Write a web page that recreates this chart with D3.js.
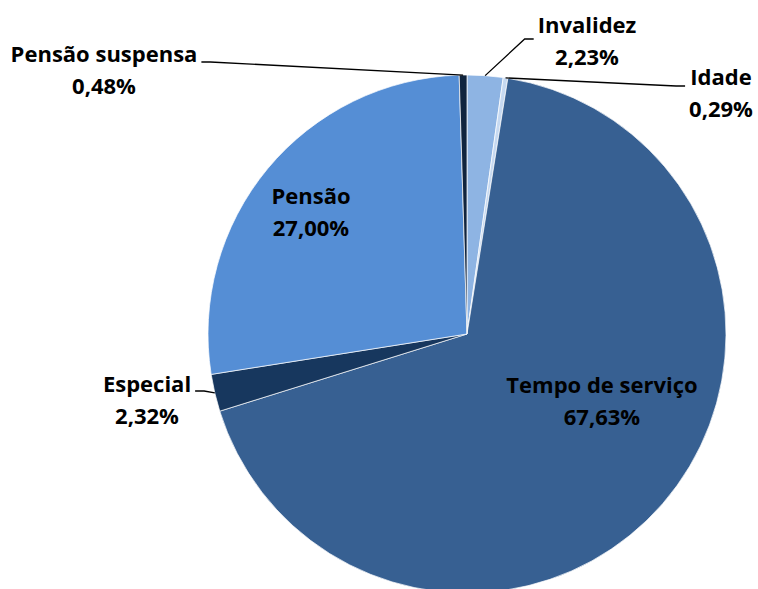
<!DOCTYPE html>
<html>
<head>
<meta charset="utf-8">
<script src="https://cdn.jsdelivr.net/npm/d3@7"></script>
<style>
  html, body { margin: 0; padding: 0; background: #fff; }
  svg text { font-family: "Open Sans", "Liberation Sans", sans-serif; font-weight: bold; fill: #000; }
</style>
</head>
<body>
<div id="chart"></div>
<script>
// Données (ordre horaire depuis midi)
const categorias = ["Invalidez", "Idade", "Tempo de serviço", "Especial", "Pensão", "Pensão suspensa"];
const valores = [2.23, 0.29, 67.63, 2.32, 27.00, 0.48];
const rotulos = ["2,23%", "0,29%", "67,63%", "2,32%", "27,00%", "0,48%"];
const cores = ["#8EB4E3", "#C6D9F1", "#376092", "#17375E", "#558ED5", "#10243E"];

// Position des étiquettes (ligne de base de la 1re ligne) et ligne de rappel
const labelPos = [
  { x: 587, y: 33, leader: true, side: "left", dy: 6 },
  { x: 721, y: 85, leader: true, side: "left", dy: 1 },
  { x: 602, y: 393, leader: false },
  { x: 147, y: 392, leader: true, side: "right", dy: -1 },
  { x: 311, y: 204, leader: false },
  { x: 104, y: 62, leader: true, side: "right", dy: 0 }
];

const width = 758, height = 589;
const cx = 467, cy = 334, radius = 259;

const svg = d3.select("#chart").append("svg")
  .attr("width", width)
  .attr("height", height);

const data = categorias.map((c, i) => ({ cat: c, val: valores[i], lab: rotulos[i], cor: cores[i], pos: labelPos[i] }));

const pie = d3.pie().sort(null).value(d => d.val);
const arcs = pie(data);

const arc = d3.arc().innerRadius(0).outerRadius(radius);
const edge = d3.arc().innerRadius(radius).outerRadius(radius);

const g = svg.append("g").attr("transform", `translate(${cx},${cy})`);

g.selectAll("path")
  .data(arcs)
  .join("path")
  .attr("d", arc)
  .attr("fill", d => d.data.cor)
  .attr("stroke", "#fff")
  .attr("stroke-width", 0.7);

// Textes
const fs = 22;
const lineH = 32;
const labels = svg.append("g");

data.forEach((d, i) => {
  const t = labels.append("text")
    .attr("text-anchor", "middle")
    .style("font-size", fs + "px");
  t.append("tspan").attr("x", d.pos.x).attr("y", d.pos.y).text(d.cat);
  t.append("tspan").attr("x", d.pos.x).attr("y", d.pos.y + lineH).text(d.lab);
});

// Lignes de rappel
labels.selectAll("path.leader")
  .data(arcs.filter(a => a.data.pos.leader))
  .join("path")
  .attr("class", "leader")
  .attr("fill", "none")
  .attr("stroke", "#000")
  .attr("stroke-width", 1.3)
  .attr("d", a => {
    const node = labels.selectAll("text").nodes()[a.index];
    const bb = node.getBBox();
    const [ex, ey] = edge.centroid(a);
    const y0 = a.data.pos.y + a.data.pos.dy;
    let x0, x1;
    if (a.data.pos.side === "left") {
      x0 = bb.x - 4; x1 = x0 - 9;
    } else {
      x0 = bb.x + bb.width + 4; x1 = x0 + 9;
    }
    return `M${x0},${y0}L${x1},${y0}L${cx + ex},${cy + ey}`;
  });
</script>
</body>
</html>
